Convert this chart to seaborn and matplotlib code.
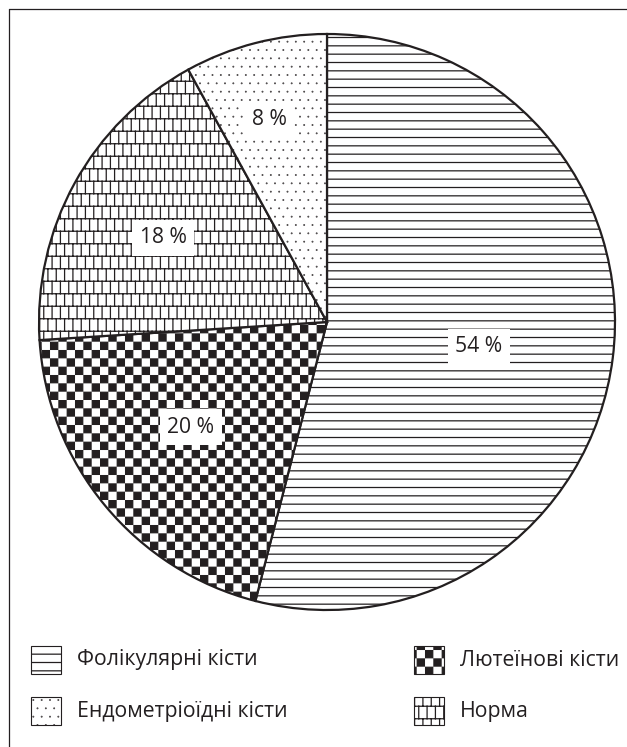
import numpy as np
import matplotlib
matplotlib.use('Agg')
import matplotlib.pyplot as plt
import matplotlib.hatch as mhatch
from matplotlib.path import Path
from matplotlib.patches import Rectangle
from matplotlib.lines import Line2D
import seaborn as sns

# ---------------- data ----------------
categories = ['Фолікулярні кісти', 'Лютеїнові кісти', 'Норма', 'Ендометріоїдні кісти']
shares = [54, 20, 18, 8]
pct_labels = ['54 %', '20 %', '18 %', '8 %']
legend_left = ['Фолікулярні кісти', 'Ендометріоїдні кісти']
legend_right = ['Лютеїнові кісти', 'Норма']

# ---------------- styles ----------------
hatches = {'Фолікулярні кісти': '--', 'Лютеїнові кісти': 'xx',
           'Норма': '+', 'Ендометріоїдні кісти': '..'}
label_radius = [0.535, 0.597, 0.64, 0.73]
label_angle_shift = [-2.1, -1.9, 1.6, 1.6]
INK = '#231f20'


# ---------------- custom hatch patterns ----------------
class HLines(mhatch.HatchPatternBase):
    def __init__(self, hatch, density):
        self.num_lines = hatch.count('-') * density
        self.num_vertices = self.num_lines * 2

    def set_vertices_and_codes(self, vertices, codes):
        y = (np.arange(self.num_lines) + 0.5) / self.num_lines
        vertices[0::2, 0] = 0.0
        vertices[0::2, 1] = y
        vertices[1::2, 0] = 1.0
        vertices[1::2, 1] = y
        codes[0::2] = Path.MOVETO
        codes[1::2] = Path.LINETO


class Checker(mhatch.HatchPatternBase):
    filled = True

    def __init__(self, hatch, density):
        self.n = hatch.count('x') * density
        self.num_vertices = (self.n * self.n // 2) * 5

    def set_vertices_and_codes(self, vertices, codes):
        n = self.n
        s = 1.0 / n
        e = 0.006
        k = 0
        for i in range(n):
            for j in range(n):
                if (i + j) % 2:
                    continue
                x0, y0 = i * s + e, j * s + e
                x1, y1 = (i + 1) * s - e, (j + 1) * s - e
                vertices[k:k + 5] = [(x0, y0), (x1, y0), (x1, y1), (x0, y1), (x0, y0)]
                codes[k:k + 5] = [Path.MOVETO, Path.LINETO, Path.LINETO,
                                  Path.LINETO, Path.CLOSEPOLY]
                k += 5


class Bricks(mhatch.HatchPatternBase):
    def __init__(self, hatch, density):
        c = hatch.count('+')
        self.segs = []
        if c:
            cols, rows = 12 * c, 8 * c
            h = 1.0 / rows
            for k in range(rows):
                y0 = (k + 0.5) * h
                self.segs.append(((0.0, y0), (1.0, y0)))
                y1 = y0 + h
                for j in range(cols):
                    x = (j + 0.25 + 0.5 * (k % 2)) / cols
                    if y1 <= 1.0:
                        self.segs.append(((x, y0), (x, y1)))
                    else:
                        self.segs.append(((x, y0), (x, 1.0)))
                        self.segs.append(((x, 0.0), (x, y1 - 1.0)))
        self.num_vertices = len(self.segs) * 2

    def set_vertices_and_codes(self, vertices, codes):
        arr = np.array(self.segs).reshape(-1, 2)
        vertices[:] = arr
        codes[0::2] = Path.MOVETO
        codes[1::2] = Path.LINETO


class Dots(mhatch.Circles):
    size = 0.035
    filled = True

    def __init__(self, hatch, density):
        self.num_rows = hatch.count('.') * density
        super().__init__(hatch, density)


mhatch._hatch_types = [HLines, Checker, Bricks, Dots]

# ---------------- figure ----------------
sns.set_theme(style='white')
plt.rcParams['font.family'] = ['Open Sans', 'DejaVu Sans']
plt.rcParams['hatch.linewidth'] = 0.9
plt.rcParams['hatch.color'] = INK

W, H = 627, 747
fig = plt.figure(figsize=(W / 100, H / 100), dpi=100)
fig.patch.set_facecolor('white')

R, L = 288, 1.04
cx, cy = 327, 322
size = 2 * R * L
ax = fig.add_axes([(cx - R * L) / W, (H - cy - R * L) / H, size / W, size / H])
wedges, _ = ax.pie(shares, startangle=90, counterclock=False, radius=1,
                   colors=['white'] * len(shares),
                   hatch=[hatches[c] for c in categories],
                   wedgeprops=dict(edgecolor=INK, linewidth=1.6))
ax.set_xlim(-L, L)
ax.set_ylim(-L, L)
ax.set_aspect('auto')
ax.axis('off')

for w, lab, r, da in zip(wedges, pct_labels, label_radius, label_angle_shift):
    mid = np.radians((w.theta1 + w.theta2) / 2 + da)
    ax.text(r * np.cos(mid), r * np.sin(mid), lab, ha='center', va='center',
            fontsize=15.2, color=INK,
            bbox=dict(boxstyle='square,pad=0.35', fc='white', ec='none'))

# frame (left and top edges visible)
fig.add_artist(Line2D([8.5 / W, 8.5 / W], [0, 1 - 8.5 / H], transform=fig.transFigure,
                      color=INK, lw=0.9))
fig.add_artist(Line2D([8.5 / W, 1], [1 - 8.5 / H, 1 - 8.5 / H], transform=fig.transFigure,
                      color=INK, lw=0.9))

# legend: swatch + label per entry, two columns
sw_w, sw_h = 30, 28
rows_y = [660, 711]
for items, x0 in [(legend_left, 31), (legend_right, 414)]:
    for name, yc in zip(items, rows_y):
        fig.add_artist(Rectangle((x0 / W, (H - yc - sw_h / 2) / H), sw_w / W, sw_h / H,
                                 transform=fig.transFigure, facecolor='white',
                                 edgecolor=INK, linewidth=0.8, hatch=hatches[name]))
        fig.text((x0 + sw_w + 16) / W, (H - yc) / H, name, ha='left', va='center',
                 fontsize=15.3, color=INK)

fig.savefig('out.png', dpi=100, facecolor='white')
